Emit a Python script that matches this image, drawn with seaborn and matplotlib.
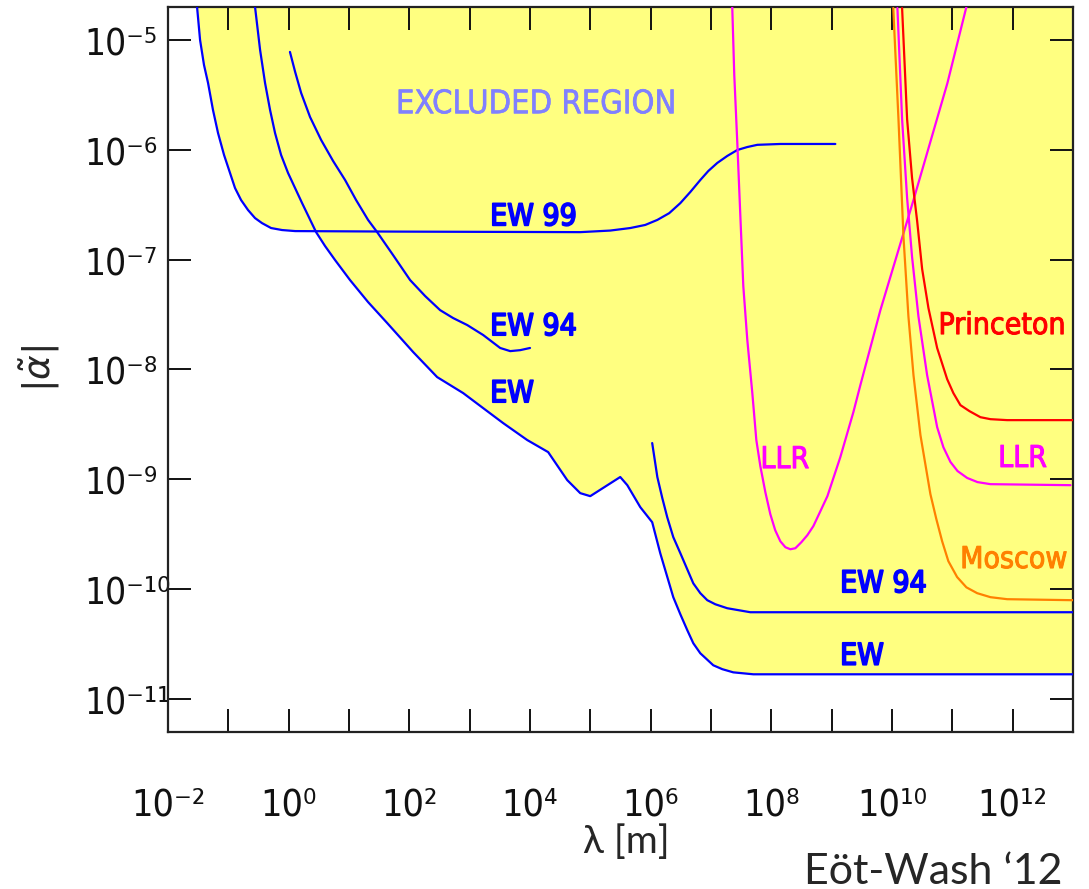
import os
import numpy as np
import pandas as pd
import matplotlib
matplotlib.use("Agg")
import matplotlib.pyplot as plt
from matplotlib import font_manager as fm
from matplotlib import patheffects as pe
from matplotlib.ticker import NullLocator
import seaborn as sns

# ---------------- data ----------------
ew99_lam = [0.0303, 0.0340, 0.0395, 0.0461, 0.0557, 0.0675, 0.0849, 0.1067, 0.129, 0.1625,
            0.212, 0.277, 0.362, 0.511, 0.778, 1.28, 70.3, 6.81e4, 2.14e5, 4.59e5, 8.13e5,
            1.29e6, 2.03e6, 3.10e6, 4.54e6, 6.65e6, 9.02e6, 1.27e7, 1.86e7, 2.73e7, 4.0e7,
            5.86e7, 1.41e8, 1.15e9]
ew99_alpha = [2.0e-5, 1.0e-5, 5.92e-6, 4.06e-6, 2.30e-6, 1.42e-6, 8.97e-7, 6.15e-7, 4.49e-7,
              3.49e-7, 2.83e-7, 2.39e-7, 2.15e-7, 1.94e-7, 1.86e-7, 1.82e-7, 1.80e-7, 1.78e-7,
              1.84e-7, 1.94e-7, 2.07e-7, 2.30e-7, 2.65e-7, 3.27e-7, 4.13e-7, 5.31e-7, 6.41e-7,
              7.59e-7, 8.79e-7, 9.96e-7, 1.06e-6, 1.11e-6, 1.13e-6, 1.13e-6]

ew_lam = [0.277, 0.336, 0.406, 0.492, 0.595, 0.749, 0.977, 1.67, 2.85, 4.01, 5.88, 10.4, 20.7,
          42.9, 116, 289, 780, 1675, 3594, 8990, 2.0e4, 4.14e4, 6.8e4, 9.96e4, 3.13e5, 4.1e5,
          6.73e5, 1.06e6, 1.44e6, 2.37e6, 3.10e6, 4.05e6, 5.09e6, 6.65e6, 1.09e7, 1.54e7,
          2.34e7, 5.03e7, 1.0e13]
ew_alpha = [2.0e-5, 8.11e-6, 4.06e-6, 2.30e-6, 1.42e-6, 8.97e-7, 6.15e-7, 3.27e-7, 1.78e-7,
            1.33e-7, 9.91e-8, 6.52e-8, 4.11e-8, 2.65e-8, 1.44e-8, 8.53e-9, 6.1e-9, 4.45e-9,
            3.25e-9, 2.28e-9, 1.77e-9, 9.84e-10, 7.49e-10, 7.03e-10, 1.05e-9, 8.85e-10,
            5.58e-10, 4.07e-10, 2.13e-10, 8.46e-11, 5.92e-11, 4.23e-11, 3.22e-11, 2.61e-11,
            2.03e-11, 1.87e-11, 1.75e-11, 1.68e-11, 1.68e-11]

ew94a_lam = [1.05, 1.28, 1.61, 2.26, 3.45, 5.45, 8.61, 13.1, 20.7, 29.3, 53.8, 103, 183, 324,
             532, 910, 1675, 3206, 4700, 6870, 1.0e4]
ew94a_alpha = [7.78e-6, 5.12e-6, 3.29e-6, 1.99e-6, 1.23e-6, 7.91e-7, 5.31e-7, 3.49e-7, 2.30e-7,
               1.78e-7, 1.10e-7, 6.52e-8, 4.66e-8, 3.47e-8, 2.94e-8, 2.54e-8, 2.06e-8, 1.57e-8,
               1.47e-8, 1.50e-8, 1.57e-8]

ew94b_lam = [1.06e6, 1.29e6, 1.56e6, 1.88e6, 2.37e6, 3.1e6, 5.09e6, 6.65e6, 8.68e6, 1.18e7,
             1.86e7, 4.49e7, 1.0e13]
ew94b_alpha = [2.14e-9, 1.05e-9, 6.74e-10, 4.53e-10, 2.98e-10, 2.13e-10, 1.13e-10, 9.2e-11,
               7.94e-11, 7.29e-11, 6.71e-11, 6.17e-11, 6.17e-11]

llr_lam = [2.25e7, 2.43e7, 2.73e7, 3.06e7, 3.43e7, 4.0e7, 4.84e7, 5.64e7, 6.57e7, 7.96e7,
           9.62e7, 1.16e8, 1.41e8, 1.71e8, 2.07e8, 2.5e8, 3.15e8, 3.95e8, 4.97e8, 6.5e8,
           8.5e8, 1.07e9, 1.39e9, 2.29e9, 2.99e9, 6.42e9, 2.27e10, 8.3e10, 1.71e11]
llr_alpha = [2.0e-5, 4.8e-6, 1.15e-6, 2.55e-7, 5.75e-8, 1.85e-8, 6.1e-9, 2.28e-9, 1.32e-9,
             7.64e-10, 4.82e-10, 3.44e-10, 2.73e-10, 2.41e-10, 2.31e-10, 2.36e-10, 2.68e-10,
             3.1e-10, 3.75e-10, 5.13e-10, 7.03e-10, 1.03e-9, 1.59e-9, 4.09e-9, 7.21e-9,
             3.47e-8, 3.49e-7, 4.06e-6, 2.0e-5]

llr2_lam = [1.23e10, 1.47e10, 1.78e10, 2.15e10, 2.74e10, 3.82e10, 5.6e10, 7.11e10, 9.3e10,
            1.22e11, 1.76e11, 2.61e11, 4.28e11, 9.1e12]
llr2_alpha = [1.95e-5, 1.9e-6, 3.64e-7, 1.06e-7, 3.06e-8, 8.89e-9, 2.99e-9, 1.96e-9, 1.44e-9,
              1.19e-9, 1.03e-9, 9.44e-10, 9.04e-10, 8.85e-10]

princeton_lam = [1.47e10, 1.78e10, 2.15e10, 2.61e10, 3.16e10, 4.02e10, 5.6e10, 8.2e10, 1.04e11,
                 1.36e11, 1.92e11, 2.92e11, 4.28e11, 8.1e11, 1.0e13]
princeton_alpha = [1.95e-5, 1.9e-6, 5.53e-7, 2.25e-7, 8.2e-8, 3.62e-8, 1.57e-8, 8.18e-9, 6.1e-9,
                   4.74e-9, 4.18e-9, 3.68e-9, 3.53e-9, 3.46e-9, 3.46e-9]

moscow_lam = [1.05e10, 1.28e10, 1.55e10, 1.87e10, 2.27e10, 2.96e10, 4.33e10, 5.43e10, 6.78e10,
              8.59e10, 1.2e11, 1.71e11, 2.58e11, 4.28e11, 8.1e11, 1.0e13]
moscow_alpha = [1.95e-5, 1.9e-6, 1.61e-7, 3.06e-8, 8.89e-9, 2.53e-9, 7.33e-10, 4.35e-10,
                2.73e-10, 1.80e-10, 1.29e-10, 1.04e-10, 9.2e-11, 8.46e-11, 8.11e-11, 7.94e-11]

x_tick_values = [10.0 ** e for e in range(-2, 14)]
x_tick_labels = ["10\u207b\u00b2", "", "10\u2070", "", "10\u00b2", "", "10\u2074", "",
                 "10\u2076", "", "10\u2078", "", "10\u00b9\u2070", "", "10\u00b9\u00b2", ""]
y_tick_values = [10.0 ** e for e in range(-11, -4)]
y_tick_labels = ["10\u207b\u00b9\u00b9", "10\u207b\u00b9\u2070", "10\u207b\u2079", "10\u207b\u2078",
                 "10\u207b\u2077", "10\u207b\u2076", "10\u207b\u2075"]

curve_names = ["EW 99", "EW", "EW 94 (a)", "EW 94 (b)", "LLR (a)", "LLR (b)", "Princeton", "Moscow"]
curve_lams = [ew99_lam, ew_lam, ew94a_lam, ew94b_lam, llr_lam, llr2_lam, princeton_lam, moscow_lam]
curve_alphas = [ew99_alpha, ew_alpha, ew94a_alpha, ew94b_alpha, llr_alpha, llr2_alpha,
                princeton_alpha, moscow_alpha]

# ---------------- styling ----------------
BLUE = "#0000FF"
MAGENTA = "#FF00FF"
RED = "#FF0000"
ORANGE = "#FF8000"
YELLOW = "#FFFF80"
palette = {"EW 99": BLUE, "EW": BLUE, "EW 94 (a)": BLUE, "EW 94 (b)": BLUE,
           "LLR (a)": MAGENTA, "LLR (b)": MAGENTA, "Princeton": RED, "Moscow": ORANGE}

sns.set_style("white")
plt.rcParams["font.family"] = ["DejaVu Sans"]
plt.rcParams["mathtext.fontset"] = "dejavusans"

files = {os.path.basename(f.fname): f.fname for f in fm.fontManager.ttflist}


def pick(names):
    for n in names:
        if n in files:
            return n, files[n]
    return None, None


nname, npath = pick(["DejaVuSansCondensed.ttf", "LiberationSansNarrow-Regular.ttf"])
if nname is None:
    scale = 0.82
elif nname.startswith("Liberation"):
    scale = 1.0
else:
    scale = 0.9


def nfont(size):
    if npath is None:
        return fm.FontProperties(family="DejaVu Sans", size=size * scale)
    return fm.FontProperties(fname=npath, size=size * scale)


fig = plt.figure(figsize=(10.89, 8.89), dpi=100)
ax = fig.add_axes([168 / 1089, 1 - 732 / 889, (1073 - 168) / 1089, (732 - 7) / 889])
ax.set_xscale("log")
ax.set_yscale("log")

# excluded region (above the best limits)
ax.fill_between(ew99_lam, ew99_alpha, 1e-3, color=YELLOW, lw=0, zorder=0)
ax.fill_between(ew_lam, ew_alpha, 1e-3, color=YELLOW, lw=0, zorder=0)

rows = []
for name, lams, alphas in zip(curve_names, curve_lams, curve_alphas):
    for l, a in zip(lams, alphas):
        rows.append((name, l, a))
df = pd.DataFrame(rows, columns=["curve", "lam", "alpha"])
sns.lineplot(data=df, x="lam", y="alpha", hue="curve", palette=palette, estimator=None,
             linewidth=1.6, legend=False, ax=ax, zorder=3)

ax.set_xlim(1e-2, 1e13)
ax.set_ylim(10 ** -11.3, 10 ** -4.7)
ax.xaxis.set_minor_locator(NullLocator())
ax.yaxis.set_minor_locator(NullLocator())
ax.set_xticks(x_tick_values)
ax.set_xticklabels(x_tick_labels)
ax.set_yticks(y_tick_values)
ax.set_yticklabels(y_tick_labels)
ax.tick_params(which="major", direction="in", length=16.5, width=1.4, color="#111111",
               top=True, right=True, bottom=True, left=True)
ax.tick_params(axis="x", pad=40)
ax.tick_params(axis="y", pad=60)
for lbl in ax.get_xticklabels():
    lbl.set_fontproperties(nfont(30))
    lbl.set_color("#111111")
for lbl in ax.get_yticklabels():
    lbl.set_fontproperties(nfont(29.5))
    lbl.set_horizontalalignment("left")
    lbl.set_color("#111111")
for sp in ax.spines.values():
    sp.set_linewidth(1.6)
    sp.set_color("#222222")
ax.set_xlabel("")
ax.set_ylabel("")


def lx(v):
    return 10.0 ** v


def label(xe, ye, s, color, size=24, ha="left", bold=0.7):
    ax.text(lx(xe), lx(ye), s, color=color, fontproperties=nfont(size), ha=ha, va="center",
            zorder=5, path_effects=[pe.withStroke(linewidth=bold, foreground=color)])


# curve labels
label(4.10, -5.59, "EXCLUDED REGION", "#8080FF", size=26, ha="center", bold=0.4)
label(3.34, -6.61, "EW 99", BLUE, bold=1.3)
label(3.34, -7.61, "EW 94", BLUE, bold=1.3)
label(3.34, -8.22, "EW", BLUE, bold=1.3)
label(9.14, -9.95, "EW 94", BLUE, bold=1.3)
label(9.14, -10.61, "EW", BLUE, bold=1.3)
label(7.82, -8.82, "LLR", MAGENTA)
label(11.76, -8.81, "LLR", MAGENTA)
label(10.77, -7.60, "Princeton", RED)
label(11.13, -9.73, "Moscow", ORANGE)

# axis titles
fig.text(40 / 1089, 1 - 368 / 889, r"$|\tilde{\alpha}|$", rotation=90, fontsize=27,
         ha="center", va="center")
fig.text(626 / 1089, 1 - 842 / 889, "\u03bb [m]", family=["Lato", "DejaVu Sans"], fontsize=28,
         ha="center", va="center")
fig.text(1062 / 1089, 1 - 884 / 889, "E\u00f6t-Wash \u201812", family=["Lato", "DejaVu Sans"],
         fontsize=31, ha="right", va="baseline")

fig.savefig("out.png", dpi=100)
